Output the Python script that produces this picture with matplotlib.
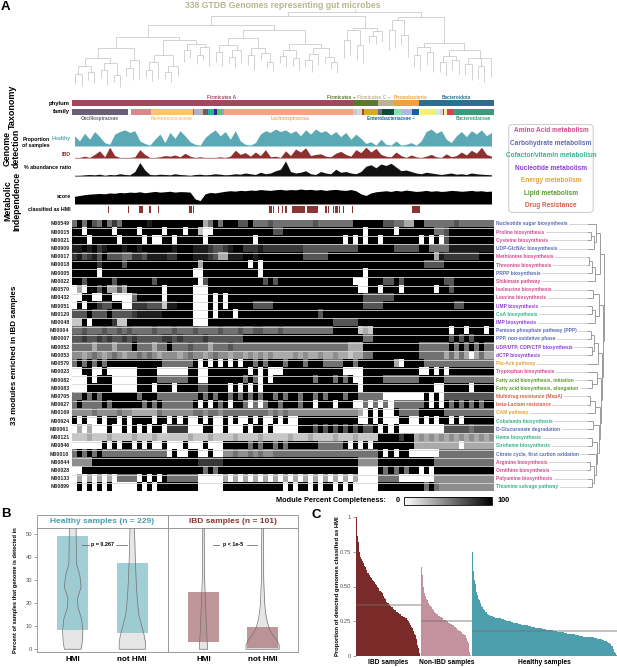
import numpy as np
import matplotlib
matplotlib.use("Agg")
import matplotlib.pyplot as plt
from matplotlib.collections import LineCollection
from matplotlib.patches import Rectangle, FancyBboxPatch
from matplotlib.cm import ScalarMappable
from matplotlib.colors import Normalize

plt.rcParams['font.family'] = ['Liberation Sans', 'DejaVu Sans']
plt.rcParams['font.weight'] = 'bold'

W, H = 617, 667
N_GEN = 338

# ---------------- taxonomy ----------------
phylum_sizes = [225, 20, 13, 20, 60]
phylum_colors = ['#a3475f', '#5c7a2e', '#bab491', '#f0a23a', '#2d6d8e']
phylum_labels = ['Firmicutes A', 'Firmicutes \u00ac', 'Firmicutes C \u00ac', 'Proteobacteria', 'Bacteroidota']
phylum_label_pos = [120, 216, 242, 271, 308]

family_sizes = [45, 2, 16, 34, 1, 7, 2, 2, 5, 2, 4, 2, 103,
                3, 4, 2, 11, 3, 10, 6, 8, 6,
                1, 12, 4, 2, 1, 2, 5, 33]
family_colors = ['#6b5f77', '#ffffff', '#d9868c', '#ffc46b', '#d03a8a', '#b9aec4', '#7d5a48',
                 '#536a5c', '#22b59b', '#2a2aa0', '#4fcf4f', '#9a9ae6', '#f9a383',
                 '#c4cdd6', '#d5d5d5', '#b5441f', '#d5ab23', '#6b6b8c', '#0c4b3b',
                 '#7fe3b3', '#a9b9ea', '#1261a3',
                 '#ffffff', '#f5f06e', '#c2f0f0', '#f2c8d0', '#8b4a3a', '#f7e8a8', '#d1434f', '#3a9a7c']
family_labels = ['Oscillospiraceae', 'Ruminococcaceae', 'Lachnospiraceae',
                 'Enterobacteriaceae \u2518', 'Bacteroidaceae']
family_label_pos = [22, 80, 175, 256, 321]
family_label_colors = ['#6b5f77', '#ffc46b', '#f9a383', '#1261a3', '#3a9a7c']

# phylogeny: [node depth, children...], leaves are tip depths (px from top)
genome_tree = [12,
    [16,
        [25,
            [37,
                [48,
                    [58, [66, [74, 84, 86], [72, 80, 83]], [63, [70, 78, 85], [75, 82, 87]]],
                    [60, [68, 76, 80], 79]],
                [40,
                    [55, [62, [70, 77, 81], 78], [66, [72, 79, 82], 76]],
                    [44, [50, 62, 58], [47, [55, 64, 60], 66]]]],
            [30,
                [38, [45, [52, 62, 66], [50, [57, 64, 68], 63]],
                     [48, [55, 65, 70], [53, 60, [62, 68, 71]]]],
                [44, [50, [56, 63, 67], [58, 66, 70]],
                     [48, [54, [60, 67, 72], 65], [57, 64, [62, 69, 73]]]]]],
        [28,
            [30, [40, 58, 55], [45, 60, 63]],
            [31, [36, 43, 44], 42]]],
    [17,
        [20, [30, 50, 48], [35, 45, 57]],
        [43, [47, [55, 67, 70], [52, 65, 72]],
             [50, [56, [62, 72, 76], [60, 70, 74]], [58, [64, 75, 80], [66, 78, 82], 77]]]]]

# ---------------- detection tracks (84 bins over 338 genomes) ----------------
healthy_prop = [60, 30, 75, 40, 85, 55, 20,
                10, 70, 85, 95, 80, 90, 30,
                15, 5, 40, 70, 20,
                80, 45, 90, 60, 25, 10, 5,
                50, 75, 95, 60, 85, 40, 90, 30,
                10, 5, 20,
                70, 90, 80, 100, 85, 95, 75, 90, 60,
                95, 70, 100, 80, 90, 65, 85,
                55, 80, 40, 70, 45,
                15, 25, 5, 40, 10, 5,
                30, 5, 10, 20, 5, 30,
                85, 100, 75, 90, 40,
                20, 60, 85, 55, 90, 70, 95, 60, 80]
ibd_prop = [5, 5, 15, 5, 30, 60, 10,
            90, 20, 5, 5, 5, 10, 70,
            30, 5, 5, 10, 20, 15, 25,
            10, 40, 15, 5, 10, 5, 5,
            5, 10, 5, 15, 65, 30, 45,
            15, 50, 20, 70, 10, 15, 5,
            60, 20, 75, 50, 85, 20, 30,
            35, 15, 10, 40, 55, 30, 15,
            70, 45, 90, 50, 80, 30, 15,
            10, 50, 20, 5, 25, 10, 5,
            15, 30, 10, 5, 35, 10, 20,
            50, 25, 65, 40, 90, 30, 15]
abund_ratio = [5, 5, 8, 10, 8, 12, 5,
               10, 8, 15, 10, 8, 30, 90,
               40, 10, 8, 12, 10, 8, 15,
               10, 8, 5, 10, 12, 8, 10,
               15, 12, 8, 10, 15, 12, 20,
               15, 10, 25, 15, 20, 35, 45,
               100, 30, 20, 25, 35, 15, 10,
               30, 20, 15, 45, 25, 30, 20,
               15, 30, 65, 75, 55, 80, 70,
               85, 60, 35, 40, 30, 20, 15,
               25, 20, 15, 10, 15, 20, 12,
               15, 10, 20, 15, 12, 10, 8]
mi_score = [45, 50, 55, 58, 60, 62, 60, 65, 63, 68, 66, 70,
            68, 72, 66, 70, 74, 70, 72, 75, 70, 73, 72, 70,
            30, 20, 60, 68, 65, 70, 75, 78, 76, 80, 78, 82,
            80, 85, 82, 80, 84, 86, 82, 85, 83, 88, 84, 86,
            82, 85, 80, 84, 86, 82, 80, 85, 78, 60, 50, 65,
            72, 75, 78, 74, 80, 76, 82, 78, 74, 76, 80, 75,
            78, 74, 76, 80, 78, 75, 77, 80, 76, 78, 74, 76]
hmi_genomes = [29, 45, 54, 55, 56, 62, 69, 94, 95, 97, 158, 159, 161, 165, 168, 171,
               176, 177, 178, 179, 180, 181, 182, 183, 184, 185, 186,
               188, 189, 190, 191, 192, 193, 194, 195, 196,
               203, 205, 209, 211, 212, 214, 217, 224,
               272, 273, 274, 275, 276, 277, 278]

# ---------------- module completeness (0 = empty, 9 = complete) ----------------
module_ids = ['M00549', 'M00015', 'M00021', 'M00909', 'M00017', 'M00018', 'M00005', 'M00022',
              'M00570', 'M00432', 'M00051', 'M00120', 'M00048', 'M00004', 'M00007', 'M00052',
              'M00053', 'M00579', 'M00023', 'M00082', 'M00083', 'M00705', 'M00627', 'M00169',
              'M00924', 'M00061', 'M00121', 'M00846', 'M00010', 'M00844', 'M00028', 'M00133',
              'M00899']
module_names = ['Nucleotide sugar biosynthesis', 'Proline biosynthesis', 'Cysteine biosynthesis',
                'UDP-GlcNAc biosynthesis', 'Methionine biosynthesis', 'Threonine biosynthesis',
                'PRPP biosynthesis', 'Shikimate pathway', 'Isoleucine biosynthesis',
                'Leucine biosynthesis', 'UMP biosynthesis', 'CoA biosynthesis', 'IMP biosynthesis',
                'Pentose phosphate pathway (PPP)', 'PPP, non-oxidative phase',
                'UDP/UTP, CDP/CTP biosynthesis', 'dCTP biosynthesis', 'Pta-Ack pathway',
                'Tryptophan biosynthesis', 'Fatty acid biosynthesis, initiation',
                'Fatty acid biosynthesis, elongation', 'Multidrug resistance (MepA)',
                'beta-Lactam resistance', 'CAM pathway', 'Cobalamin biosynthesis',
                'D-Glucuronate degradation', 'Heme biosynthesis', 'Siroheme biosynthesis',
                'Citrate cycle, first carbon oxidation', 'Arginine biosynthesis',
                'Ornithine biosynthesis', 'Polyamine biosynthesis', 'Thiamine salvage pathway']
module_cats = ['carb', 'amino', 'amino', 'carb', 'amino', 'amino', 'carb', 'amino', 'amino',
               'amino', 'nuc', 'cof', 'nuc', 'carb', 'carb', 'nuc', 'nuc', 'energy', 'amino',
               'lipid', 'lipid', 'drug', 'drug', 'energy', 'cof', 'carb', 'cof', 'cof', 'carb',
               'amino', 'amino', 'amino', 'cof']
module_rows = [
    "59596595759" "999989999999999" "3" "5959996" "695" "55655" "55555565555555" "99" "999966" "55" "33" "99" "5555" "5565555555",
    "99099999099990999909990992" "00" "999999" "999999" "66" "9999999999999999" "0" "99999" "0" "9999999" "55" "6999999999",
    "9990999990999909" "00" "99099999" "0" "9999999" "99099999999999999999" "0909" "0" "9909" "999999" "09090" "6999999999",
    "8898978999899899999989998887667899" "777877777777" "66666666666" "9" "999999" "66666" "99" "555" "5888888888",
    "7867869666557768888779998887633888" "998999999999" "66666" "999999999999999999999" "3" "8" "7777777999",
    "9999979999699999999999999" "3" "99999999" "9090" "99999999999999999999999999999999" "6666" "9999999999",
    "999990999999999999999999" "00" "99999999" "999" "0" "99999999999999999999" "0" "999999999999999" "9999999999",
    "9969999969999999699999999" "0" "69999999" "9999696999999999999999" "000" "999" "66969" "9999999" "6699999999",
    "030" "99693" "363" "9999999" "0" "99999" "000" "9999999" "99999999999999999999999" "00" "99" "0" "999" "0" "999999" "0" "9" "9699999999",
    "00" "99" "00" "99" "0000" "5" "99999" "0" "99999" "000" "9090999" "999999999999999999999999" "666666" "9999999999" "9999999999",
    "090" "997" "66" "99" "00" "777" "666" "2" "88999" "000" "9090999" "99" "6666" "999999999999999999" "6666" "999999999999" "9966999999",
    "66696669" "666" "6788" "888" "999999" "000" "9099909" "99999999999999969999" "99999999999999999999" "9999999999",
    "22" "9099" "997" "22" "9999999999999" "000" "9999999" "999999999999999999" "66666" "99999999999999999" "9999999999",
    "5565556556" "5655556555" "6555655556" "5556" "5566555655" "55555555" "99999" "232" "99999999999999" "9099099909",
    "6676676766" "7676666677" "6766667666" "6666" "999999999999999999999999" "55" "99999999999999" "9696969999",
    "5555355535" "5595553559" "5556555355" "5655" "555555555555555555555" "333" "99999999999" "55555" "5959595955",
    "4434543454" "3445454344" "4345443454" "4344" "3434343333434334334" "33233" "55" "999999999" "55555" "3535303533",
    "59595959" "999" "9999999" "555555" "9090909090" "9959599959995999" "5555" "9959" "999999" "30" "9999" "5555" "5555555555",
    "00" "99" "00" "90" "00000" "9999" "0" "00000" "99" "00" "9999999" "909090" "00" "999999999999" "000" "0" "99999999999" "00" "909" "0999999999",
    "000" "90999" "00000" "9999" "55" "5555" "99" "00" "9999999" "595" "090" "9999999" "959995" "95900" "9999" "55" "55555" "99999" "5555555555",
    "000" "99999" "00000" "999099909" "999" "66" "9999090" "9090" "9999999999999999999" "0" "99999999999999" "00" "9999909999",
    "55" "959599" "999" "9959995" "555555" "5959599595" "959599595995" "99595999599" "55555" "0000000" "09090" "6666666666",
    "595" "55595" "99999" "95959" "555555" "9090959099" "50505" "9959995" "9909990999" "00" "5050505" "55555" "9090" "9595959599",
    "4444544445" "4433333544" "4444554554" "5555" "55555" "4545444" "44444444444" "3" "0909009" "5555" "99999" "5555555555",
    "9090" "0909" "90909" "99909" "909090" "0909009090" "090900909009" "99999999999" "0" "0909000990090909" "9090999999",
    "03030" "0090090" "9090990" "7777" "000" "99" "00900090" "9909" "00000" "999" "6969696969669" "090900" "0000000" "6666656666",
    "2223222322" "2232223222" "2223222322" "2232222322" "2223222322" "2232223222" "2" "9999799" "3434343434343434",
    "000000" "9090990909" "00900090009000" "99999" "59599595" "999999" "55555" "9090909" "9999999" "3333333330333333",
    "595959" "5555555" "555555" "09009900900" "44544545445" "5555555555555555" "5555" "9090990" "00000" "55555555555",
    "4444" "999999999999999999999" "77777" "999999999999999999999999999" "4444" "99999999999" "555555555555",
    "00" "99999999999999999999999" "95959" "999999999999999999999999999" "0000" "9595959" "90909" "99999999999",
    "030303030" "5555" "090909" "555555" "00000" "303030303030303030303030303" "0000" "5555" "0000000" "444444444444",
    "090909090" "0000" "909099" "999999" "00000" "99999999999" "9090990909909090" "0000" "99999999" "9595" "44444444444",
]
# module clustering: [join offset px, children...], leaves are row indices
module_tree = [17,
    [13, [9, 0, [7, [4, 1, 2], 3]], [8, [5, [2, 4, 5], 6], 7]],
    [16,
        [12, [6, 8, 9], [8, [5, 10, 11], 12]],
        [15,
            [11, [7, [4, 13, 14], [5, 15, 16]], 17],
            [14,
                [10, 18, [5, 19, 20]],
                [13, [8, [3, 21, 22], 23],
                     [12, [6, 24, 25], [10, [5, 26, 27], [9, 28, [7, [3, 29, 30], [5, 31, 32]]]]]]]]]]

cat_names = ['Amino Acid metabolism', 'Carbohydrate metabolism', 'Cofactor/vitamin metabolism',
             'Nucleotide metabolism', 'Energy metabolism', 'Lipid metabolism', 'Drug Resistance']
cat_keys = ['amino', 'carb', 'cof', 'nuc', 'energy', 'lipid', 'drug']
cat_colors = ['#d4488c', '#5b6bb5', '#35b38f', '#8b3fcf', '#e3a33a', '#5b9a2f', '#d65f4a']

# ---------------- panel B ----------------
b_groups = ['Healthy samples (n = 229)', 'IBD samples (n = 101)']
b_group_colors = ['#4a9eac', '#8b3535']
b_bar_colors = ['#92c6ce', '#b48589']
b_cats = ['HMI', 'not HMI']
b_bar_low = [[8.3, 7.0], [3.2, 0.7]]
b_bar_high = [[49.2, 37.4], [24.7, 9.8]]
b_violin_levels = [[[0, 3, 8, 13, 18, 22, 27, 32, 37, 45, 56],
                    [0, 3, 6, 10, 15, 20, 25, 30, 40, 50, 56]],
                   [[0, 5, 10, 20, 30, 40, 56],
                    [0, 2, 4, 6, 8, 10, 13, 16, 20, 30, 56]]]
b_violin_widths = [[[0.14, 0.16, 0.17, 0.15, 0.09, 0.08, 0.14, 0.12, 0.065, 0.06, 0.055],
                    [0.22, 0.22, 0.2, 0.16, 0.11, 0.09, 0.075, 0.065, 0.05, 0.04, 0.035]],
                   [[0.07, 0.06, 0.05, 0.035, 0.02, 0.015, 0.012],
                    [0.28, 0.28, 0.24, 0.18, 0.13, 0.1, 0.07, 0.05, 0.035, 0.02, 0.012]]]
b_pvals = ['p = 0.267', 'p < 1e-5']
b_pval_y = 45.3

# ---------------- panel C ----------------
c_ibd = [100, 92, 86, 82, 78, 75, 73, 71, 70, 69,
         68, 67, 66, 65, 64, 63, 62, 61, 60, 60,
         59, 58, 57, 57, 56, 56, 55, 54, 53, 53,
         52, 51, 51, 50, 49, 49, 48, 47, 47, 46,
         46, 45, 44, 43, 42, 42, 41, 40, 39, 38,
         38, 38, 37, 37, 36, 36, 35, 35, 34, 34,
         33, 33, 33, 32, 32, 32, 31, 31, 30, 30,
         30, 29, 29, 29, 28, 28, 28, 27, 27, 27,
         26, 26, 25, 25, 24, 23, 22, 21, 21, 20,
         18, 17, 16, 15, 13, 12, 10, 8, 6, 4,
         2]
c_nonibd = [64, 58, 53, 50, 47, 45, 43, 42, 41, 40,
            39, 38, 38, 37, 36, 35, 35, 34, 33, 33,
            32, 32, 31, 31, 30, 30, 29, 29, 29, 28,
            28, 28, 27, 27, 27, 26, 26, 26, 26, 25,
            25, 25, 24, 24, 24, 23, 23, 23, 22, 22,
            22, 22, 21, 21, 21, 20, 20, 19, 19, 18,
            18, 18, 17, 17, 17, 16, 16, 16, 15, 15,
            14, 13, 12, 11, 9, 6, 3, 1]
c_healthy = [75, 66, 61, 58, 55, 52, 49, 46, 44, 43,
             41, 40, 39, 38, 37, 36, 35.5, 35, 34, 33,
             32.5, 32, 31.5, 31, 30.5, 30, 29.5, 29.5, 29, 29,
             28.5, 28.5, 28.5, 28, 28, 28, 28, 27.5, 27.5, 27.5,
             27.5, 27, 27, 27, 27, 27, 26.5, 26.5, 26.5, 26.5,
             26, 26, 26, 26, 25.5, 25.5, 25.5, 25, 25, 25,
             25, 24.5, 24.5, 24.5, 24.5, 24, 24, 24, 24, 23.5,
             23.5, 23.5, 23.5, 23, 23, 23, 23, 23, 22.5, 22.5,
             22.5, 22.5, 22.5, 22, 22, 22, 22, 22, 21.5, 21.5,
             21.5, 21.5, 21.5, 21, 21, 21, 21, 21, 21, 20.5,
             20.5, 20.5, 20.5, 20.5, 20.5, 20, 20, 20, 20, 20,
             20, 19.5, 19.5, 19.5, 19.5, 19.5, 19.5, 19, 19, 19,
             19, 19, 19, 18.5, 18.5, 18.5, 18.5, 18.5, 18, 18,
             18, 18, 18, 18, 17.5, 17.5, 17.5, 17.5, 17.5, 17.5,
             17, 17, 17, 17, 17, 16.5, 16.5, 16.5, 16.5, 16.5,
             16, 16, 16, 16, 16, 16, 15.5, 15.5, 15.5, 15.5,
             15.5, 15.5, 15, 15, 15, 15, 15, 15, 15, 14.5,
             14.5, 14.5, 14.5, 14.5, 14.5, 14.5, 14, 14, 14, 14,
             14, 14, 14, 14, 14, 13.5, 13.5, 13.5, 13.5, 13.5,
             13.5, 13.5, 13, 13, 13, 13, 13, 13, 12.5, 12.5,
             12.5, 12.5, 12, 12, 12, 11.5, 11.5, 11.5, 11, 11,
             11, 10.5, 10.5, 10, 10, 9.5, 9, 9, 8.5, 8,
             7.5, 7, 6, 5, 4, 3, 2, 1.5, 1]
c_labels = ['IBD samples', 'Non-IBD samples', 'Healthy samples']
c_colors = ['#7b2a2a', '#c4929f', '#4e9fad']
c_means = [0.37, 0.255, 0.18]

# =====================================================================
fig = plt.figure(figsize=(W / 100, H / 100), dpi=100)


def add_ax(x0, y0, x1, y1):
    return fig.add_axes([x0 / W, 1 - y1 / H, (x1 - x0) / W, (y1 - y0) / H])


def ftext(x, y, s, **kw):
    return fig.text(x / W, 1 - y / H, s, **kw)


X0, X1 = 72, 494
HM_TOP, HM_BOT = 219.8, 491.0
ROW_H = (HM_BOT - HM_TOP) / len(module_ids)

ftext(1, 7, 'A', fontsize=9.5, va='center')
ftext(1, 514, 'B', fontsize=9.5, va='center')
ftext(311, 515, 'C', fontsize=9.5, va='center')
ftext(283, 5.5, '338 GTDB Genomes representing gut microbes', fontsize=6.2,
      color='#b8b78f', ha='center', va='center')

# tree
ax = add_ax(X0, 6, X1, 90)
segs = []
n_leaf = [0]


def walk(node):
    if not isinstance(node, list):
        x = n_leaf[0] + 0.5
        n_leaf[0] += 1
        return x, node
    y = node[0]
    kids = [walk(c) for c in node[1:]]
    xs = [k[0] for k in kids]
    segs.append([(min(xs), y), (max(xs), y)])
    for kx, ky in kids:
        segs.append([(kx, y), (kx, ky)])
    return (min(xs) + max(xs)) / 2, y


rx, ry = walk(genome_tree)
segs.append([(rx, ry), (rx, ry - 3)])
ax.add_collection(LineCollection(segs, colors='#b0b0b0', linewidths=0.4))
ax.set_xlim(0, n_leaf[0])
ax.set_ylim(90, 6)
ax.axis('off')

# taxonomy bars
ax = add_ax(X0, 92, X1, 122)
ax.set_xlim(0, N_GEN)
ax.set_ylim(122, 92)
ax.axis('off')
ax.barh(103, phylum_sizes, left=np.r_[0, np.cumsum(phylum_sizes)[:-1]], height=6,
        color=phylum_colors, linewidth=0)
ax.barh(111.8, family_sizes, left=np.r_[0, np.cumsum(family_sizes)[:-1]], height=6.6,
        color=family_colors, linewidth=0)
for s, p, c in zip(phylum_labels, phylum_label_pos, phylum_colors):
    ax.text(p, 97.8, s, color=c, fontsize=3.4, ha='center', va='center')
for s, p, c in zip(family_labels, family_label_pos, family_label_colors):
    ax.text(p, 118.6, s, color=c, fontsize=3.4, ha='center', va='center')
ftext(70, 103, 'phylum', fontsize=4.2, ha='right', va='center')
ftext(70, 111.8, 'family', fontsize=4.2, ha='right', va='center')


# tracks
def track(y0, y1, vals, color, ymax):
    a = add_ax(X0, y0, X1, y1)
    xs = (np.arange(len(vals)) + 0.5) * N_GEN / len(vals)
    a.fill_between(xs, 0, vals, color=color, linewidth=0)
    a.set_xlim(0, N_GEN)
    a.set_ylim(0, ymax)
    a.axis('off')


track(129, 146, healthy_prop, '#5aa9b5', 100)
track(146, 158, ibd_prop, '#8e2f2f', 100)
track(161, 176, abund_ratio, '#111111', 100)
track(187, 204, mi_score, '#000000', 100)

ax = add_ax(X0, 206, X1, 213)
ax.bar(np.array(hmi_genomes) + 0.5, 1, width=1.0, color='#8b3535', linewidth=0)
ax.set_xlim(0, N_GEN)
ax.set_ylim(0, 1)
ax.axis('off')

lab_fs = 3.8
ftext(50, 139.5, 'Proportion', fontsize=lab_fs, ha='right', va='center')
ftext(71, 138.5, 'Healthy', fontsize=lab_fs, ha='right', va='center', color='#5aa9b5')
ftext(50, 145, 'of samples', fontsize=lab_fs, ha='right', va='center')
ftext(71, 154, 'IBD', fontsize=lab_fs, ha='right', va='center', color='#8e2f2f')
ftext(71, 168, '% abundance ratio', fontsize=lab_fs, ha='right', va='center')
ftext(71, 197, 'score', fontsize=lab_fs, ha='right', va='center')
ftext(71, 209.5, 'classified as HMI', fontsize=lab_fs, ha='right', va='center')

# side titles
ftext(12, 107, 'Taxonomy', rotation=90, fontsize=6.5, ha='center', va='center')
ftext(12, 148, 'Genome\ndetection', rotation=90, fontsize=6.3, ha='center', va='center',
      multialignment='center', linespacing=1.0)
ftext(12, 201, 'Metabolic\nIndependence', rotation=90, fontsize=6.3, ha='center', va='center',
      multialignment='center', linespacing=1.0)
ftext(15, 355, '33 modules enriched in IBD samples', rotation=90, fontsize=5.8,
      ha='center', va='center')

# heatmap
ax = add_ax(X0, HM_TOP, X1, HM_BOT)
for i, row in enumerate(module_rows):
    vals = np.array([[int(ch) for ch in row]])
    ax.imshow(vals, cmap='gray_r', vmin=0, vmax=9, aspect='auto', interpolation='nearest',
              extent=(0, N_GEN, i + 1, i))
ax.hlines(np.arange(1, len(module_rows)), 0, N_GEN, colors='#d6d6d6', linewidth=0.6)
ax.set_xlim(0, N_GEN)
ax.set_ylim(len(module_rows), 0)
ax.axis('off')

for i, mid in enumerate(module_ids):
    ftext(69.5, HM_TOP + (i + 0.5) * ROW_H, mid, fontsize=3.8, ha='right', va='center',
          color='#222222')

# module names + clustering
axr = add_ax(X1, HM_TOP, 612, HM_BOT)
axr.set_xlim(X1, 612)
axr.set_ylim(len(module_rows), 0)
axr.axis('off')
cat_col = dict(zip(cat_keys, cat_colors))
name_texts = []
for i, (nm, ct) in enumerate(zip(module_names, module_cats)):
    name_texts.append(axr.text(X1 + 2, i + 0.5, nm, fontsize=3.5, ha='left', va='center',
                               color=cat_col[ct]))

LEAF_X = 587
msegs = []


def walk_mod(node):
    if not isinstance(node, list):
        return float(LEAF_X), node + 0.5
    h = LEAF_X + node[0]
    kids = [walk_mod(c) for c in node[1:]]
    ys = [k[1] for k in kids]
    for kx, ky in kids:
        msegs.append([(kx, ky), (h, ky)])
    msegs.append([(h, min(ys)), (h, max(ys))])
    return h, (min(ys) + max(ys)) / 2


walk_mod(module_tree)
axr.add_collection(LineCollection(msegs, colors='#8c8c8c', linewidths=0.6))

# legend box
axl = add_ax(507, 123, 595, 214)
axl.set_xlim(0, 1)
axl.set_ylim(214, 123)
axl.axis('off')
axl.add_patch(FancyBboxPatch((0.02, 124.5), 0.96, 88, boxstyle='round,pad=0,rounding_size=0.05',
                             mutation_aspect=60, fc='white', ec='#d0d0d0', lw=0.8))
for k, (nm, c) in enumerate(zip(cat_names, cat_colors)):
    axl.text(0.5, 130.5 + k * 12.5, nm, color=c, fontsize=4.7, ha='center', va='center')

# colorbar
axc = add_ax(404, 497, 492, 505)
cb = fig.colorbar(ScalarMappable(Normalize(0, 100), 'gray_r'), cax=axc, orientation='horizontal')
cb.set_ticks([])
cb.outline.set_linewidth(0.6)
ftext(386, 501, 'Module Percent Completeness:', fontsize=5.3, ha='right', va='center')
ftext(398, 501, '0', fontsize=5.3, ha='center', va='center')
ftext(497, 501, '100', fontsize=5.3, ha='left', va='center')

# ---------------- panel B ----------------
axB = [add_ax(37, 528, 168, 652), add_ax(168, 528, 298, 652)]
for k, ax in enumerate(axB):
    for j in range(2):
        c = j + 1
        vy = np.array(b_violin_levels[k][j], dtype=float)
        vw = np.array(b_violin_widths[k][j])
        ax.fill_betweenx(vy, c - vw, c + vw, color='#e6e6e6', linewidth=0, zorder=1)
        lo, hi = b_bar_low[k][j], b_bar_high[k][j]
        ax.bar(c, hi - lo, bottom=lo, width=0.52, color=b_bar_colors[k], alpha=0.85,
               linewidth=0, zorder=2)
        ax.fill(np.r_[c - vw, (c + vw)[::-1]], np.r_[vy, vy[::-1]], fc='none', ec='#707070',
                lw=0.5, zorder=3)
        ax.axvline(c, color='#ebebeb', lw=0.6, zorder=0)
    ax.plot([1.16, 1.27], [b_pval_y] * 2, color='#555555', lw=0.5)
    ax.plot([1.73, 1.91], [b_pval_y] * 2, color='#555555', lw=0.5)
    ax.text(1.5, b_pval_y, b_pvals[k], fontsize=3.9, ha='center', va='center')
    ax.set_xlim(0.4, 2.6)
    ax.set_ylim(-1.2, 52.6)
    ax.set_xticks([1, 2])
    ax.set_xticklabels(b_cats, fontsize=5.9, fontweight='bold')
    ax.tick_params(axis='x', length=0, pad=3)
    for sp in ax.spines.values():
        sp.set_color('#9a9a9a')
        sp.set_linewidth(0.7)
    ax.add_patch(Rectangle((0, 1), 1, 13 / 124, transform=ax.transAxes, fc='white',
                           ec='#9a9a9a', lw=0.7, clip_on=False))
    ax.text(0.5, 1 + 6.5 / 124, b_groups[k], transform=ax.transAxes, ha='center',
            va='center', fontsize=6, color=b_group_colors[k])
axB[0].set_yticks([0, 10, 20, 30, 40, 50])
axB[0].tick_params(axis='y', length=2, width=0.5, color='#777777', labelsize=4.2,
                   labelcolor='#555555', pad=1.5)
for t in axB[0].get_yticklabels():
    t.set_fontweight('normal')
axB[1].set_yticks([])
ftext(16, 590, 'Percent of samples that genome is detected in', rotation=90, fontsize=4.1,
      ha='center', va='center')

# ---------------- panel C ----------------
axC = add_ax(356, 517, 617, 656)
start = 0
for vals, col, mean, lab in zip([c_ibd, c_nonibd, c_healthy], c_colors, c_means, c_labels):
    v = np.array(vals) / 100.0
    xs = start + np.arange(len(v))
    axC.bar(xs, v, width=1.0, color=col, linewidth=0)
    axC.hlines(mean, start - 0.5, start + len(v) + 1.5, colors='#707070', alpha=0.55, lw=1.1)
    axC.text(start + len(v) / 2, -0.05, lab, transform=axC.get_xaxis_transform(),
             ha='center', va='center', fontsize=4.8)
    start += len(v) + 2
axC.set_xlim(-0.5, start - 2.5)
axC.set_ylim(0, 1)
axC.set_yticks([0, 0.25, 0.5, 0.75, 1])
axC.set_yticklabels(['0', '0.25', '0.50', '0.75', '1'])
axC.set_xticks([])
axC.tick_params(axis='y', length=2, width=0.5, color='#777777', labelsize=4.2,
                labelcolor='#555555', pad=1.5)
for t in axC.get_yticklabels():
    t.set_fontweight('normal')
for sp in axC.spines.values():
    sp.set_visible(False)
ftext(338, 586, 'Proportion of detected genomes classified as HMI', rotation=90, fontsize=4.2,
      ha='center', va='center')

# guide lines from module names to the dendrogram
fig.canvas.draw()
rend = fig.canvas.get_renderer()
inv = axr.transData.inverted()
for i, t in enumerate(name_texts):
    bb = t.get_window_extent(rend)
    xe = inv.transform((bb.x1, bb.y0))[0]
    if xe + 1.5 < LEAF_X:
        axr.plot([xe + 1.5, LEAF_X], [i + 0.5, i + 0.5], color='#c4c4c4', lw=0.5)

fig.savefig('out.png', dpi=100)
